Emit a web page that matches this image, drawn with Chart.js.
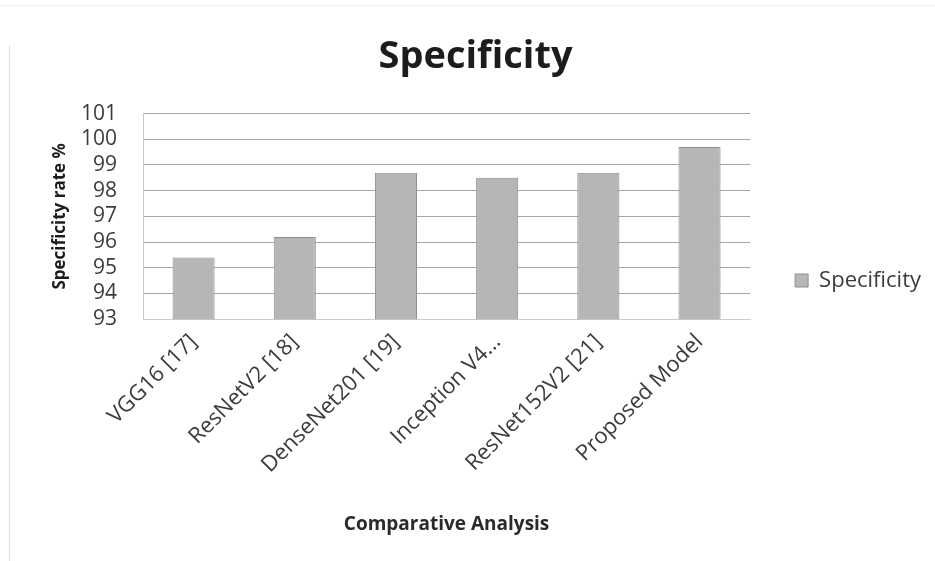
<!DOCTYPE html>
<html>
<head>
<meta charset="utf-8">
<script src="https://cdn.jsdelivr.net/npm/chart.js@4"></script>
<style>
  html, body { margin: 0; padding: 0; background: #fff; }
  #wrap { position: relative; width: 935px; height: 561px; }
  #edge { position: absolute; left: 9px; top: 45px; width: 1px; height: 516px; background: #dcdcdc; }
  #topline { position: absolute; left: 0; top: 5px; width: 935px; height: 1px; background: #efefef; }
</style>
</head>
<body>
<div id="wrap">
  <div id="topline"></div>
  <div id="edge"></div>
  <canvas id="myChart" width="935" height="561"></canvas>
</div>
<script>
// values
const models = ['VGG16 [17]', 'ResNetV2 [18]', 'DenseNet201 [19]', 'Inception V4...', 'ResNet152V2 [21]', 'Proposed Model'];
const specificity = [95.4, 96.2, 98.7, 98.5, 98.7, 99.7];
const yTicks = [93, 94, 95, 96, 97, 98, 99, 100, 101];

const font = '"Open Sans", Lato, sans-serif';
const textColor = '#3c3c3c';

var ctx = document.getElementById('myChart').getContext('2d');

new Chart(ctx, {
    type: 'bar',
    data: {
        labels: models,
        datasets: [{
            label: 'Specificity',
            data: specificity,
            backgroundColor: '#b6b6b6',
            borderColor: '#8e8e8e',
            borderWidth: 1,
            categoryPercentage: 0.8,
            barPercentage: 0.52
        }]
    },
    options: {
        responsive: false,
        animation: false,
        layout: { padding: { top: 0, left: 20, right: 4, bottom: 0 } },
        plugins: {
            title: {
                display: true,
                text: 'Specificity',
                color: '#1c1c1c',
                font: { family: font, size: 38, weight: 'bold' },
                padding: { top: 34, bottom: 34 }
            },
            legend: {
                position: 'right',
                labels: {
                    color: textColor,
                    font: { family: font, size: 22 },
                    boxWidth: 13,
                    boxHeight: 13,
                    padding: 45
                }
            },
            tooltip: { enabled: false }
        },
        scales: {
            x: {
                grid: { display: false },
                border: { color: '#cccccc' },
                // rotated first label should not push the plot to the right
                afterFit: scale => { scale.paddingLeft = 0; },
                ticks: {
                    color: textColor,
                    font: { family: font, size: 22 },
                    minRotation: 45,
                    maxRotation: 45,
                    padding: 2
                },
                title: {
                    display: true,
                    text: 'Comparative Analysis',
                    color: '#2a2a2a',
                    font: { family: font, size: 19, weight: 'bold' },
                    padding: { top: 33, bottom: 25 }
                }
            },
            y: {
                min: 93,
                max: 101,
                afterBuildTicks: axis => { axis.ticks = yTicks.map(v => ({ value: v })); },
                afterFit: scale => { scale.width = 123; },
                grid: { color: '#a6a6a6', lineWidth: 1, drawTicks: false },
                border: { color: '#c8c8c8' },
                ticks: {
                    color: textColor,
                    font: { family: font, size: 21 },
                    autoSkip: false,
                    padding: 26
                },
                title: {
                    display: true,
                    text: 'Specificity rate %',
                    color: '#1c1c1c',
                    font: { family: font, size: 17, weight: 'bold' },
                    padding: { top: 30, bottom: 12 }
                }
            }
        }
    }
});
</script>
</body>
</html>
